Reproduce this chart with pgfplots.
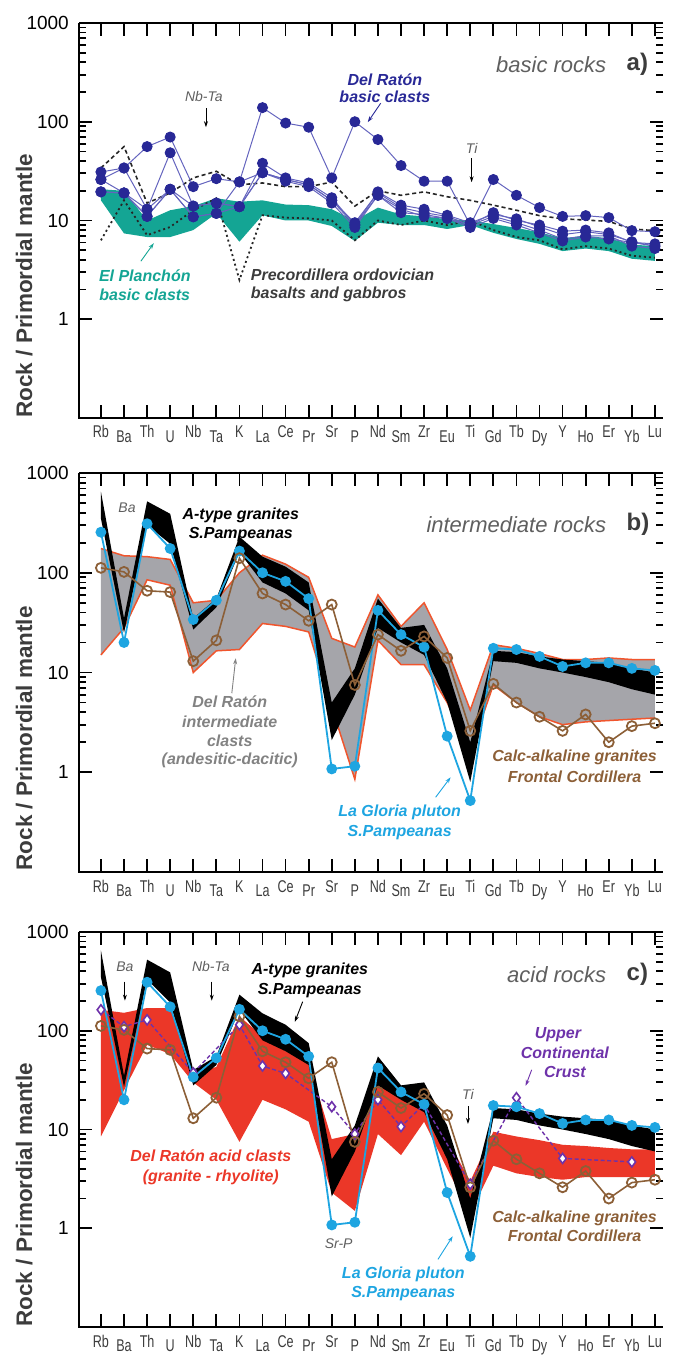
\documentclass[border=0pt]{standalone}
\usepackage{fontspec}
\setmainfont{Liberation Sans}
\usepackage{graphicx}
\usepackage{pgfplots}
\usepackage{pgfplotstable}
\pgfplotsset{compat=1.18}
\usetikzlibrary{arrows.meta}

\definecolor{navy}{RGB}{40,40,150}
\definecolor{navyl}{RGB}{100,100,190}
\definecolor{teal2}{RGB}{20,165,148}
\definecolor{cyan2}{RGB}{30,165,225}
\definecolor{brown2}{RGB}{140,95,55}
\definecolor{red2}{RGB}{235,55,40}
\definecolor{redl}{RGB}{240,85,45}
\definecolor{gray2}{RGB}{165,165,170}
\definecolor{purp}{RGB}{110,50,170}
\definecolor{anngray}{RGB}{95,95,95}
\definecolor{dgray}{RGB}{60,60,60}
\definecolor{midgray}{RGB}{130,130,130}

\newcommand\sx[1]{\scalebox{0.74}[1]{#1}}
\newcommand\sd[1]{\raisebox{-4.5pt}{\scalebox{0.74}[1]{#1}}}

\pgfplotstableread{
i S1 S2 S3 S4 S5 PU PL
0 26 31 19.5 19.5 26 34 6.3
1 34 34 19 19 19 56 16
2 56 13 11 11 13 15 7.1
3 70 48.5 20.7 20.7 20.7 19 8.6
4 22 14 10.9 10.9 14 27 12.7
5 26.5 15 11.8 11.8 15 31.5 16.8
6 24.6 13.8 24.6 13.8 13.8 23 2.5
7 139 38 30.5 30.5 30.5 24 11.3
8 97 27 26 25 26 22 10.7
9 88 24 23 22 23 22 10.5
10 27 17 16 15 16 24.5 10
11 100 9 9.5 8.5 9 14 6.3
12 66 19.5 19 18 18 20 10
13 36 14.3 13.5 13 12 18 9
14 25 13 12 11 11.5 19.5 10
15 25 11.3 11 10.5 10.5 17.4 9
16 9 9.5 9 9 8.5 16 10
17 26 11.5 12 11 10.5 14.3 8
18 18 10.4 10 9.5 9 12.7 6.8
19 13.5 8.6 9 8 7.5 11.2 6.3
20 11 7.2 7.8 6.5 6.2 10.4 5.1
21 11.2 7.7 8 7 6.8 10.1 5.5
22 10.7 7.2 7.5 7 6.5 9.8 5.2
23 7.9 6.1 6 5.5 6 8.2 4.4
24 7.7 5.5 5.8 5.2 5.5 7.9 4.2
}\dataA

\pgfplotstableread{
i GU GL LG CA UC
0 175 15 255 112 163
1 148 28 20 102 110
2 145 85 310 66 129
3 136 75 175 64 nan
4 50 10 34 13 37.5
5 53 16.5 53 21 nan
6 100 17 165 140 115
7 150 31 100 62 44
8 122 29 82 48 37
9 90 25.5 55 33 nan
10 22 4.5 1.08 48 17
11 18 0.85 1.15 7.5 9
12 60 21 42 24 20
13 29 12 24 16.5 10.7
14 50 12 18 23 18
15 17 5 2.3 14 nan
16 4.2 1.6 0.52 2.6 2.8
17 19 7.5 17.5 7.7 nan
18 17.5 5 17 5 21
19 15.5 3.6 14.5 3.6 nan
20 13.5 3 11.5 2.6 5.1
21 13.5 3.2 12.5 3.8 nan
22 14 3.3 12.5 2 nan
23 13.5 3.4 11 2.9 4.7
24 13.5 3.5 10.5 3.1 nan
}\dataB

\tikzset{
 myframe/.style={line width=2.5pt, black},
 myann/.style={font=\fontsize{16}{18}\selectfont\bfseries\itshape, inner sep=0pt},
 mysm/.style={font=\fontsize{14}{16}\selectfont\itshape, text=anngray, inner sep=0pt},
 mybig/.style={font=\fontsize{22}{24}\selectfont\itshape, text=anngray, inner sep=0pt},
 mylab/.style={font=\fontsize{24}{26}\selectfont\bfseries, text=dgray, inner sep=0pt},
 myarr/.style={-{Stealth[length=6pt,width=4pt]}, line width=0.9pt},
}

\pgfplotsset{every axis/.append style={
  scale only axis, width=584pt,
  xmin=-0.95, xmax=24.35,
  xtick={0,...,24},
  xticklabels={\sx{Rb},\sd{Ba},\sx{Th},\sd{U},\sx{Nb},\sd{Ta},\sx{K},\sd{La},\sx{Ce},\sd{Pr},\sx{Sr},\sd{P},\sx{Nd},\sd{Sm},\sx{Zr},\sd{Eu},\sx{Ti},\sd{Gd},\sx{Tb},\sd{Dy},\sx{Y},\sd{Ho},\sx{Er},\sd{Yb},\sx{Lu}},
  xticklabel style={anchor=base, yshift=-20pt, font=\fontsize{17}{19}\selectfont, inner sep=0pt, text=dgray},
  yticklabel style={anchor=east, xshift=-10pt, font=\fontsize{19}{20}\selectfont, inner sep=0pt},
  tick align=inside,
  major tick length=13pt, minor tick length=7pt,
  axis line style={draw=none},
  ylabel style={at={(axis description cs:-0.094,0.335)}, anchor=center, font=\fontsize{22.5}{24}\selectfont\bfseries, text=dgray},
  clip=false,
 }}

\begin{document}
\begin{tikzpicture}
\useasboundingbox (0pt,0pt) rectangle (673pt,-1356pt);

% ---------------- panel a ----------------
\begin{axis}[height=395pt, at={(79pt,-23pt)}, anchor=north west,
  ymode=log, ymin=0.1, ymax=1000,
  ytick={1,10,100,1000}, yticklabels={1,10,100,1000},
  minor ytick={2,3,4,5,6,7,8,9,20,30,40,50,60,70,80,90,200,300,400,500,600,700,800,900},
  tick style={black, line width=1.8pt},
  ylabel={Rock / Primordial mantle}]
\addplot[fill=teal2, draw=none] coordinates {(0,20.7)(1,20)(2,10)(3,12.7)(4,14)(5,16.8)(6,15.5)(7,16)(8,14.5)(9,14.3)(10,13)(11,10)(12,13.5)(13,11.5)(14,11)(15,10.3)(16,10)(17,9.2)(18,8.4)(19,7.6)(20,6.6)(21,7)(22,6.6)(23,5.7)(24,5.5)
 (24,3.9)(23,4.1)(22,4.9)(21,5.2)(20,4.9)(19,5.8)(18,6.5)(17,7.5)(16,9)(15,8.2)(14,9)(13,9)(12,9.5)(11,6.2)(10,8.8)(9,10)(8,10)(7,11.3)(6,6.1)(5,11.8)(4,8)(3,6.8)(2,6.8)(1,7.4)(0,16)};
\addplot[black!85, line width=1.6pt, dash pattern=on 4pt off 3pt] table[x=i,y=PU]{\dataA};
\addplot[black!85, line width=1.8pt, dash pattern=on 2pt off 3pt] table[x=i,y=PL]{\dataA};
\addplot[navyl, line width=1pt, mark=*, mark size=5pt, mark options={fill=navy, draw=navy}] table[x=i,y=S5]{\dataA};
\addplot[navyl, line width=1pt, mark=*, mark size=5pt, mark options={fill=navy, draw=navy}] table[x=i,y=S4]{\dataA};
\addplot[navyl, line width=1pt, mark=*, mark size=5pt, mark options={fill=navy, draw=navy}] table[x=i,y=S3]{\dataA};
\addplot[navyl, line width=1pt, mark=*, mark size=5pt, mark options={fill=navy, draw=navy}] table[x=i,y=S2]{\dataA};
\addplot[navyl, line width=1pt, mark=*, mark size=5pt, mark options={fill=navy, draw=navy}] table[x=i,y=S1]{\dataA};
\node[mybig, anchor=east] at (axis cs:21.9,383) {basic rocks};
\node[mylab, anchor=west] at (axis cs:22.77,383) {a)};
\node[mysm] at (axis cs:4.46,182) {Nb-Ta};
\draw[myarr] (axis cs:4.55,137) -- (axis cs:4.55,88);
\node[myann, text=navy] at (axis cs:12.3,264) {Del Ratón};
\node[myann, text=navy] at (axis cs:12.3,178) {basic clasts};
\draw[myarr, navy] (axis cs:12.12,154) -- (axis cs:11.56,99);
\node[mysm] at (axis cs:16.06,54) {Ti};
\draw[myarr] (axis cs:16.06,42.8) -- (axis cs:16.06,24.4);
\node[myann, text=teal2] at (axis cs:1.9,2.73) {El Planchón};
\node[myann, text=teal2] at (axis cs:1.9,1.75) {basic clasts};
\draw[myarr, teal2] (axis cs:1.73,3.87) -- (axis cs:2.29,5.89);
\node[myann, text=dgray, anchor=west] at (axis cs:6.49,2.79) {Precordillera ordovician};
\node[myann, text=dgray, anchor=west] at (axis cs:6.49,1.79) {basalts and gabbros};
\draw[myframe] (rel axis cs:0,1) -- (rel axis cs:0,0) -- (rel axis cs:1,0);
\draw[myframe] (rel axis cs:0,1) -- (rel axis cs:1,1);
\end{axis}

% ---------------- panel b ----------------
\begin{axis}[height=399pt, at={(79pt,-473pt)}, anchor=north west,
  ymode=log, ymin=0.1, ymax=1000,
  ytick={1,10,100,1000}, yticklabels={1,10,100,1000},
  minor ytick={2,3,4,5,6,7,8,9,20,30,40,50,60,70,80,90,200,300,400,500,600,700,800,900},
  tick style={black, line width=1.8pt},
  ylabel={Rock / Primordial mantle}]
\addplot[fill=gray2, draw=none] coordinates {(0,175)(1,148)(2,145)(3,136)(4,50)(5,53)(6,100)(7,150)(8,122)(9,90)(10,22)(11,18)(12,60)(13,29)(14,50)(15,17)(16,4.2)(17,19)(18,17.5)(19,15.5)(20,13.5)(21,13.5)(22,14)(23,13.5)(24,13.5)
 (24,3.5)(23,3.4)(22,3.3)(21,3.2)(20,3)(19,3.6)(18,5)(17,7.5)(16,1.6)(15,5)(14,12)(13,12)(12,21)(11,0.85)(10,4.5)(9,25.5)(8,29)(7,31)(6,17)(5,16.5)(4,10)(3,75)(2,85)(1,28)(0,15)};
\addplot[redl, line width=1.5pt] table[x=i,y=GU]{\dataB};
\addplot[redl, line width=1.5pt] table[x=i,y=GL]{\dataB};
\addplot[fill=black, draw=none] coordinates {(0,650)(1,35)(2,520)(3,390)(4,35)(5,55)(6,230)(7,145)(8,115)(9,80)(10,5)(11,11)(12,55)(13,28)(14,30)(15,11)(16,2)(17,16.5)(18,16)(19,14.5)(20,13.5)(21,13)(22,12.5)(23,11)(24,10)
 (24,6)(23,6.8)(22,8)(21,9)(20,10)(19,11)(18,12.5)(17,13)(16,0.8)(15,5)(14,15)(13,20)(12,28)(11,6)(10,2.1)(9,42)(8,62)(7,80)(6,160)(5,45)(4,27)(3,195)(2,300)(1,25)(0,350)};
\addplot[cyan2, line width=1.8pt, mark=*, mark size=4.5pt, mark options={fill=cyan2, draw=cyan2}] table[x=i,y=LG]{\dataB};
\addplot[brown2, line width=1.6pt, mark=o, mark size=5pt, mark options={fill=white, draw=brown2, line width=1.8pt}] table[x=i,y=CA]{\dataB};
\node[mysm] at (axis cs:1.13,445) {Ba};
\node[myann, text=black] at (axis cs:6.06,378) {A-type granites};
\node[myann, text=black] at (axis cs:6.06,244) {S.Pampeanas};
\node[mybig, anchor=east] at (axis cs:21.9,307) {intermediate rocks};
\node[mylab, anchor=west] at (axis cs:22.77,307) {b)};
\node[myann, text=midgray] at (axis cs:5.58,5.04) {Del Ratón};
\node[myann, text=midgray] at (axis cs:5.58,3.17) {intermediate};
\node[myann, text=midgray] at (axis cs:5.58,2.05) {clasts};
\node[myann, text=midgray] at (axis cs:5.58,1.32) {(andesitic-dacitic)};
\draw[myarr, midgray] (axis cs:5.67,6.2) -- (axis cs:5.84,13.9);
\node[myann, text=cyan2] at (axis cs:12.94,0.397) {La Gloria pluton};
\node[myann, text=cyan2] at (axis cs:12.94,0.25) {S.Pampeanas};
\draw[myarr, cyan2] (axis cs:14.5,0.561) -- (axis cs:15.15,0.891);
\node[myann, text=brown2] at (axis cs:20.52,1.41) {Calc-alkaline granites};
\node[myann, text=brown2] at (axis cs:20.52,0.891) {Frontal Cordillera};
\draw[myframe] (rel axis cs:0,1) -- (rel axis cs:0,0) -- (rel axis cs:1,0);
\draw[myframe] (rel axis cs:0,1) -- (rel axis cs:1,1);
\end{axis}

% ---------------- panel c ----------------
\begin{axis}[height=395pt, at={(79pt,-932pt)}, anchor=north west,
  ymode=log, ymin=0.1, ymax=1000,
  ytick={1,10,100,1000}, yticklabels={1,10,100,1000},
  minor ytick={2,3,4,5,6,7,8,9,20,30,40,50,60,70,80,90,200,300,400,500,600,700,800,900},
  tick style={black, line width=1.8pt},
  ylabel={Rock / Primordial mantle}]
\addplot[fill=red2, draw=none] coordinates {(0,163)(1,152)(2,170)(3,170)(4,37)(5,43)(6,140)(7,88)(8,62)(9,48)(10,8)(11,9)(12,30)(13,20)(14,25)(15,8)(16,3)(17,9.5)(18,8.5)(19,7.8)(20,7)(21,6.8)(22,6.5)(23,6.3)(24,6.3)
 (24,3.3)(23,3.3)(22,3.3)(21,3.3)(20,3.1)(19,3.3)(18,3.6)(17,4.3)(16,1.4)(15,4)(14,12)(13,5.5)(12,9)(11,1.5)(10,2.3)(9,12)(8,16)(7,20)(6,7.5)(5,20)(4,30)(3,58)(2,72)(1,25)(0,8.5)};
\addplot[fill=black, draw=none] coordinates {(0,650)(1,35)(2,525)(3,390)(4,40)(5,55)(6,232)(7,150)(8,115)(9,75)(10,5)(11,11)(12,55)(13,28)(14,30)(15,11)(16,2)(17,16.5)(18,16)(19,14.5)(20,13.5)(21,13)(22,12.5)(23,11)(24,10)
 (24,6)(23,6.8)(22,8)(21,9)(20,10)(19,11)(18,12.5)(17,13)(16,0.8)(15,5)(14,15)(13,20)(12,28)(11,6)(10,2.1)(9,45)(8,62)(7,80)(6,163)(5,45)(4,28)(3,193)(2,330)(1,27)(0,350)};
\addplot[purp, line width=1.4pt, dash pattern=on 4pt off 2.5pt, unbounded coords=discard, mark=diamond*, mark size=5pt, mark options={solid, fill=white, draw=purp, line width=1.6pt}] table[x=i,y=UC]{\dataB};
\addplot[brown2, line width=1.6pt, mark=o, mark size=5pt, mark options={fill=white, draw=brown2, line width=1.8pt}] table[x=i,y=CA]{\dataB};
\addplot[cyan2, line width=1.8pt, mark=*, mark size=4.5pt, mark options={fill=cyan2, draw=cyan2}] table[x=i,y=LG]{\dataB};
\node[mysm] at (axis cs:1.04,446) {Ba};
\draw[myarr] (axis cs:1.04,314) -- (axis cs:1.04,202);
\node[mysm] at (axis cs:4.76,446) {Nb-Ta};
\draw[myarr] (axis cs:4.8,314) -- (axis cs:4.8,202);
\node[myann, text=black] at (axis cs:9.05,406) {A-type granites};
\node[myann, text=black] at (axis cs:9.05,255) {S.Pampeanas};
\draw[myarr] (axis cs:8.74,197) -- (axis cs:8.4,123);
\node[mybig, anchor=east] at (axis cs:21.9,370) {acid rocks};
\node[mylab, anchor=west] at (axis cs:22.77,370) {c)};
\node[myann, text=purp] at (axis cs:19.8,91) {Upper};
\node[myann, text=purp] at (axis cs:20.1,59.8) {Continental};
\node[myann, text=purp] at (axis cs:20.1,38.3) {Crust};
\draw[myarr, purp] (axis cs:18.66,40.2) -- (axis cs:18.4,27.7);
\node[mysm] at (axis cs:15.9,22.9) {Ti};
\draw[myarr] (axis cs:15.9,17.3) -- (axis cs:15.9,11.4);
\node[myann, text=red2] at (axis cs:4.76,5.38) {Del Ratón acid clasts};
\node[myann, text=red2] at (axis cs:4.76,3.3) {(granite - rhyolite)};
\node[mysm] at (axis cs:10.3,0.704) {Sr-P};
\node[myann, text=cyan2] at (axis cs:13.1,0.341) {La Gloria pluton};
\node[myann, text=cyan2] at (axis cs:13.1,0.219) {S.Pampeanas};
\draw[myarr, cyan2] (axis cs:14.6,0.484) -- (axis cs:15.24,0.83);
\node[myann, text=brown2] at (axis cs:20.52,1.26) {Calc-alkaline granites};
\node[myann, text=brown2] at (axis cs:20.52,0.83) {Frontal Cordillera};
\draw[myframe] (rel axis cs:0,1) -- (rel axis cs:0,0) -- (rel axis cs:1,0);
\draw[myframe] (rel axis cs:0,1) -- (rel axis cs:1,1);
\end{axis}
\end{tikzpicture}
\end{document}
